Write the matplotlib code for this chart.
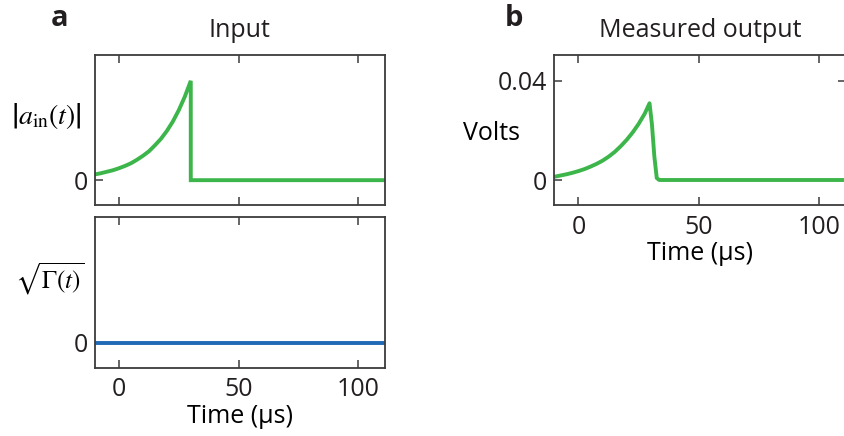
import matplotlib
matplotlib.use("Agg")
import matplotlib.pyplot as plt

# ---- data -------------------------------------------------------------
# Input drive |a_in(t)| (normalised): rising edge then abrupt switch-off at 30 us
t_in = [-10, -7.5, -5, -2.5, 0, 2.5, 5, 7.5, 10, 12.5, 15, 17.5, 20,
        22.5, 25, 27.5, 30, 30, 111]
a_in = [0.058, 0.07, 0.085, 0.10, 0.12, 0.143, 0.17, 0.205, 0.245, 0.29,
        0.35, 0.415, 0.495, 0.59, 0.705, 0.84, 1.0, 0.0, 0.0]

# Coupling sqrt(Gamma(t)) held at zero
t_gamma = [-10, 111]
gamma = [0.0, 0.0]

# Measured output voltage
t_out = [-10, -7.5, -5, -2.5, 0, 2.5, 5, 7.5, 10, 12.5, 15, 17.5, 20,
         22.5, 25, 27.5, 29.5, 30.5, 31.5, 32.5, 33.5, 110]
v_out = [0.0013, 0.0018, 0.0023, 0.0029, 0.0036, 0.0044, 0.0054, 0.0065,
         0.0078, 0.0094, 0.0113, 0.0136, 0.0162, 0.0192, 0.0227, 0.0268,
         0.031, 0.0225, 0.0095, 0.0008, 0.0, 0.0]

x_ticks = [0, 50, 100]
x_ticklabels = ["0", "50", "100"]
yticks_b = [0, 0.04]
yticklabels_b = ["0", "0.04"]

# ---- style ------------------------------------------------------------
GREEN = "#3cb64a"
BLUE = "#1f69b6"
INK = "#231f20"
SPINE = "#3c3c3c"
FS = 18

plt.rcParams["font.family"] = ["Open Sans", "DejaVu Sans"]
plt.rcParams["mathtext.fontset"] = "stix"
plt.rcParams["text.color"] = INK

fig = plt.figure(figsize=(8.44, 4.36), dpi=100)
W, H = 844.0, 436.0


def add_axes(left, top, right, bottom):
    return fig.add_axes([left / W, 1 - bottom / H, (right - left) / W, (bottom - top) / H])


def style(ax, show_xlabels):
    for s in ax.spines.values():
        s.set_color(SPINE)
        s.set_linewidth(1.3)
    ax.tick_params(direction="in", length=5.5, width=1.1, color=SPINE,
                   top=True, right=True, labelsize=FS, labelcolor=INK, pad=5)
    ax.tick_params(axis="x", pad=7)
    ax.set_xticks(x_ticks)
    if show_xlabels:
        ax.set_xticklabels(x_ticklabels)
    else:
        ax.tick_params(labelbottom=False)


ax_a1 = add_axes(95, 55, 384.7, 205)
ax_a2 = add_axes(95, 217.3, 384.7, 367.7)
ax_b = add_axes(554.3, 55, 846, 205)

# Panel a, top: input amplitude
ax_a1.plot(t_in, a_in, color=GREEN, lw=2.8, solid_joinstyle="miter")
ax_a1.set_xlim(-10, 111)
ax_a1.set_ylim(-0.25, 1.26)
ax_a1.set_yticks([0])
ax_a1.set_yticklabels(["0"])
style(ax_a1, False)
ax_a1.set_ylabel(r"$\left|a_{\mathrm{in}}(t)\right|$", rotation=0, fontsize=20,
                 ha="center", va="center")
ax_a1.yaxis.set_label_coords(-0.169, 0.593)
ax_a1.set_title("Input", fontsize=FS, pad=13)

# Panel a, bottom: coupling rate
ax_a2.plot(t_gamma, gamma, color=BLUE, lw=2.8)
ax_a2.set_xlim(-10, 111)
ax_a2.set_ylim(-0.25, 1.27)
ax_a2.set_yticks([0])
ax_a2.set_yticklabels(["0"])
style(ax_a2, True)
ax_a2.set_ylabel(r"$\sqrt{\Gamma(t)}$", rotation=0, fontsize=18, ha="center", va="center")
ax_a2.yaxis.set_label_coords(-0.155, 0.59)
ax_a2.set_xlabel("Time (\u00b5s)", fontsize=FS, labelpad=1)

# Panel b: measured output
ax_b.plot(t_out, v_out, color=GREEN, lw=2.8)
ax_b.set_xlim(-10, 111)
ax_b.set_ylim(-0.0101, 0.0505)
ax_b.set_yticks(yticks_b)
ax_b.set_yticklabels(yticklabels_b)
style(ax_b, True)
ax_b.set_ylabel("Volts", rotation=0, fontsize=FS, ha="center", va="center")
ax_b.yaxis.set_label_coords(-0.217, 0.48)
ax_b.set_xlabel("Time (\u00b5s)", fontsize=FS, labelpad=1)
ax_b.set_title("Measured output", fontsize=FS, pad=13)

# Panel letters
fig.text(60 / W, 1 - 18 / H, "a", fontsize=21, fontweight="bold", ha="center", va="center")
fig.text(514 / W, 1 - 18 / H, "b", fontsize=21, fontweight="bold", ha="center", va="center")

fig.savefig("out.png", dpi=100)
